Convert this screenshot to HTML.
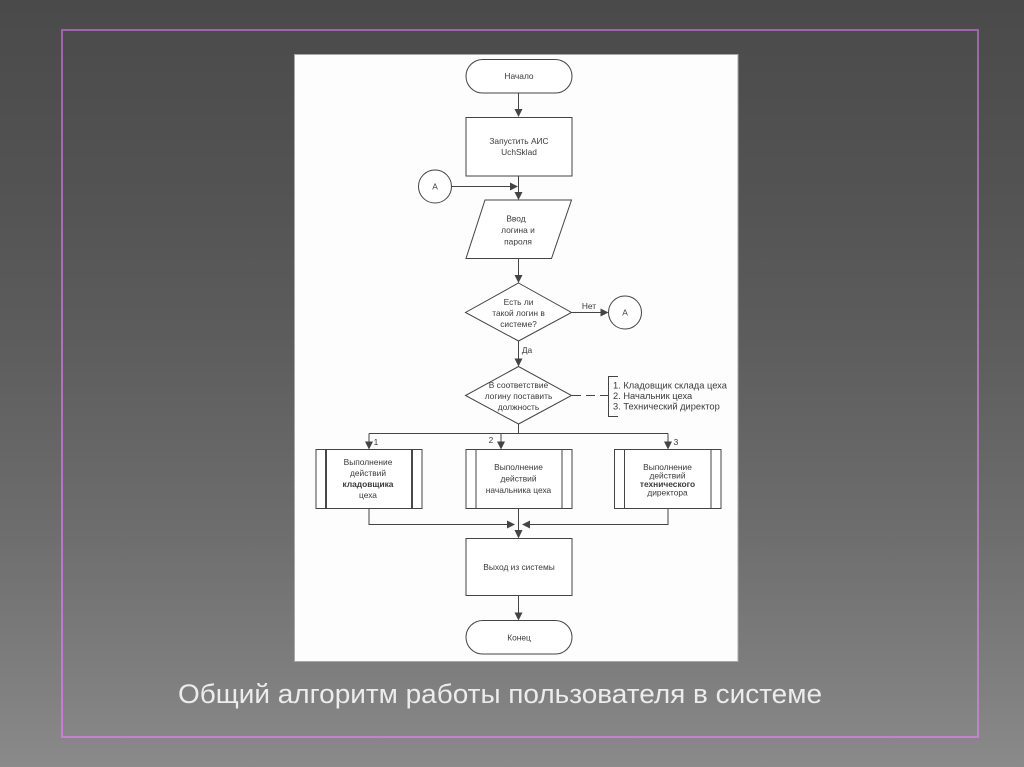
<!DOCTYPE html>
<html>
<head>
<meta charset="utf-8">
<style>
  html,body{margin:0;padding:0;width:1024px;height:767px;overflow:hidden;}
  body{background:linear-gradient(to bottom,#4a4a4a 0%,#535353 25%,#5d5d5d 45%,#6e6e6e 70%,#808080 90%,#8a8a8a 100%);}
  svg{display:block;}
  .t{font-family:"Liberation Sans","DejaVu Sans",sans-serif;font-size:8.4px;fill:#3a3a3a;text-anchor:middle;dominant-baseline:central;}
  .tl{font-family:"Liberation Sans","DejaVu Sans",sans-serif;font-size:9.3px;fill:#3a3a3a;text-anchor:start;dominant-baseline:central;}
  .s{fill:none;stroke:#444;stroke-width:1;}
  .w{fill:#fff;stroke:#444;stroke-width:1;}
  .a{fill:#444;stroke:none;}
</style>
</head>
<body>
<svg width="1024" height="767" viewBox="0 0 1024 767" xmlns="http://www.w3.org/2000/svg">
  <defs>
    <linearGradient id="fr" x1="0" y1="0" x2="0" y2="1">
      <stop offset="0" stop-color="#9a68aa"/>
      <stop offset="1" stop-color="#c282cc"/>
    </linearGradient>
  </defs>
  <!-- frame -->
  <rect x="62" y="30" width="916" height="707" fill="none" stroke="url(#fr)" stroke-width="2"/>
  <!-- white panel -->
  <rect x="294.5" y="54.5" width="443.5" height="607" fill="#fdfdfd" stroke="#a8a8a8" stroke-width="1"/>

  <!-- Начало -->
  <rect x="466" y="59.5" width="106" height="33.5" rx="16.75" class="w"/>
  <text x="519" y="76" class="t">Начало</text>
  <line x1="518.5" y1="93" x2="518.5" y2="110" class="s"/>
  <polygon points="514.5,109 522.5,109 518.5,117" class="a"/>

  <!-- Запустить -->
  <rect x="466" y="117.5" width="106" height="58.5" class="w"/>
  <text x="519" y="141" class="t">Запустить АИС</text>
  <text x="519" y="152" class="t">UchSklad</text>
  <line x1="518.5" y1="176" x2="518.5" y2="193" class="s"/>
  <polygon points="514.5,192 522.5,192 518.5,200" class="a"/>

  <!-- circle A left -->
  <circle cx="435" cy="186.5" r="16.5" class="w"/>
  <text x="435" y="186.5" class="t">A</text>
  <line x1="451.5" y1="186.5" x2="511" y2="186.5" class="s"/>
  <polygon points="510,182.5 510,190.5 518,186.5" class="a"/>

  <!-- Ввод -->
  <polygon points="485,200 571.5,200 551.5,258.5 466,258.5" class="w"/>
  <text x="516" y="218.5" class="t">Ввод</text>
  <text x="518" y="230" class="t">логина и</text>
  <text x="518" y="241.5" class="t">пароля</text>
  <line x1="518.5" y1="258.5" x2="518.5" y2="276" class="s"/>
  <polygon points="514.5,275 522.5,275 518.5,283" class="a"/>

  <!-- diamond 1 -->
  <polygon points="518.5,283 571.5,312.5 518.5,341 465.5,312.5" class="w"/>
  <text x="518.5" y="302" class="t">Есть ли</text>
  <text x="518.5" y="313" class="t">такой логин в</text>
  <text x="518.5" y="324" class="t">системе?</text>
  <line x1="571.5" y1="312.5" x2="601" y2="312.5" class="s"/>
  <polygon points="600.5,308.5 600.5,316.5 608.5,312.5" class="a"/>
  <text x="589" y="306" class="t">Нет</text>
  <circle cx="625" cy="312.5" r="16.5" class="w"/>
  <text x="625" y="312.5" class="t">A</text>

  <line x1="518.5" y1="341" x2="518.5" y2="359.5" class="s"/>
  <polygon points="514.5,358.5 522.5,358.5 518.5,366.5" class="a"/>
  <text x="527" y="350" class="t">Да</text>

  <!-- diamond 2 -->
  <polygon points="518.5,366.5 571.5,395.5 518.5,424 465.5,395.5" class="w"/>
  <text x="518.5" y="385" class="t">В соответствие</text>
  <text x="518.5" y="396" class="t">логину поставить</text>
  <text x="518.5" y="407" class="t">должность</text>
  <line x1="572" y1="395.5" x2="608.5" y2="395.5" class="s" stroke-dasharray="9,5"/>
  <polyline points="618,376.5 608.5,376.5 608.5,416.5 618,416.5" class="s"/>
  <text x="613" y="385.5" class="tl">1. Кладовщик склада цеха</text>
  <text x="613" y="396" class="tl">2. Начальник цеха</text>
  <text x="613" y="406.5" class="tl">3. Технический директор</text>

  <!-- branches -->
  <line x1="518.5" y1="424" x2="518.5" y2="433.5" class="s"/>
  <line x1="369" y1="433.5" x2="668" y2="433.5" class="s"/>
  <line x1="369" y1="433.5" x2="369" y2="442" class="s"/>
  <polygon points="365,441.5 373,441.5 369,449.5" class="a"/>
  <line x1="501" y1="433.5" x2="501" y2="442" class="s"/>
  <polygon points="497,441.5 505,441.5 501,449.5" class="a"/>
  <line x1="668" y1="433.5" x2="668" y2="442" class="s"/>
  <polygon points="664,441.5 672,441.5 668,449.5" class="a"/>
  <text x="376" y="442" class="t">1</text>
  <text x="491" y="440" class="t">2</text>
  <text x="676" y="442" class="t">3</text>

  <!-- box 1 -->
  <rect x="316" y="449.5" width="106" height="59" class="w"/>
  <line x1="326" y1="449.5" x2="326" y2="508.5" stroke="#333" stroke-width="1.8"/>
  <line x1="412" y1="449.5" x2="412" y2="508.5" stroke="#333" stroke-width="1.8"/>
  <text x="368" y="462" class="t">Выполнение</text>
  <text x="368" y="473" class="t">действий</text>
  <text x="368" y="484" class="t" style="font-weight:bold;">кладовщика</text>
  <text x="368" y="495" class="t">цеха</text>

  <!-- box 2 -->
  <rect x="466" y="449.5" width="106" height="59" class="w"/>
  <line x1="476" y1="449.5" x2="476" y2="508.5" class="s"/>
  <line x1="562" y1="449.5" x2="562" y2="508.5" class="s"/>
  <text x="518.5" y="467" class="t">Выполнение</text>
  <text x="518.5" y="478.5" class="t">действий</text>
  <text x="518.5" y="490" class="t">начальника цеха</text>

  <!-- box 3 -->
  <rect x="614.5" y="449.5" width="106.5" height="59" class="w"/>
  <line x1="624.5" y1="449.5" x2="624.5" y2="508.5" class="s"/>
  <line x1="711" y1="449.5" x2="711" y2="508.5" class="s"/>
  <text x="667.5" y="467" class="t">Выполнение</text>
  <text x="667.5" y="475.5" class="t">действий</text>
  <text x="667.5" y="484" class="t" style="font-weight:bold;">технического</text>
  <text x="667.5" y="492.5" class="t">директора</text>

  <!-- merge -->
  <polyline points="369,508.5 369,524.5 508,524.5" class="s"/>
  <polygon points="507,520.5 507,528.5 515,524.5" class="a"/>
  <polyline points="668,508.5 668,524.5 529,524.5" class="s"/>
  <polygon points="530,520.5 530,528.5 522,524.5" class="a"/>
  <line x1="518.5" y1="508.5" x2="518.5" y2="531" class="s"/>
  <polygon points="514.5,530 522.5,530 518.5,538.5" class="a"/>

  <!-- Выход -->
  <rect x="466" y="538.5" width="106" height="57" class="w"/>
  <text x="519" y="567" class="t">Выход из системы</text>
  <line x1="518.5" y1="595.5" x2="518.5" y2="613" class="s"/>
  <polygon points="514.5,612.5 522.5,612.5 518.5,620.5" class="a"/>

  <!-- Конец -->
  <rect x="466" y="620.5" width="106" height="33.5" rx="16.75" class="w"/>
  <text x="519" y="637.5" class="t">Конец</text>

  <!-- caption -->
  <text x="178" y="703" font-family="'Liberation Sans','DejaVu Sans',sans-serif" font-size="27" fill="#ececec" textLength="644" lengthAdjust="spacingAndGlyphs">Общий алгоритм работы пользователя в системе</text>
</svg>
</body>
</html>
